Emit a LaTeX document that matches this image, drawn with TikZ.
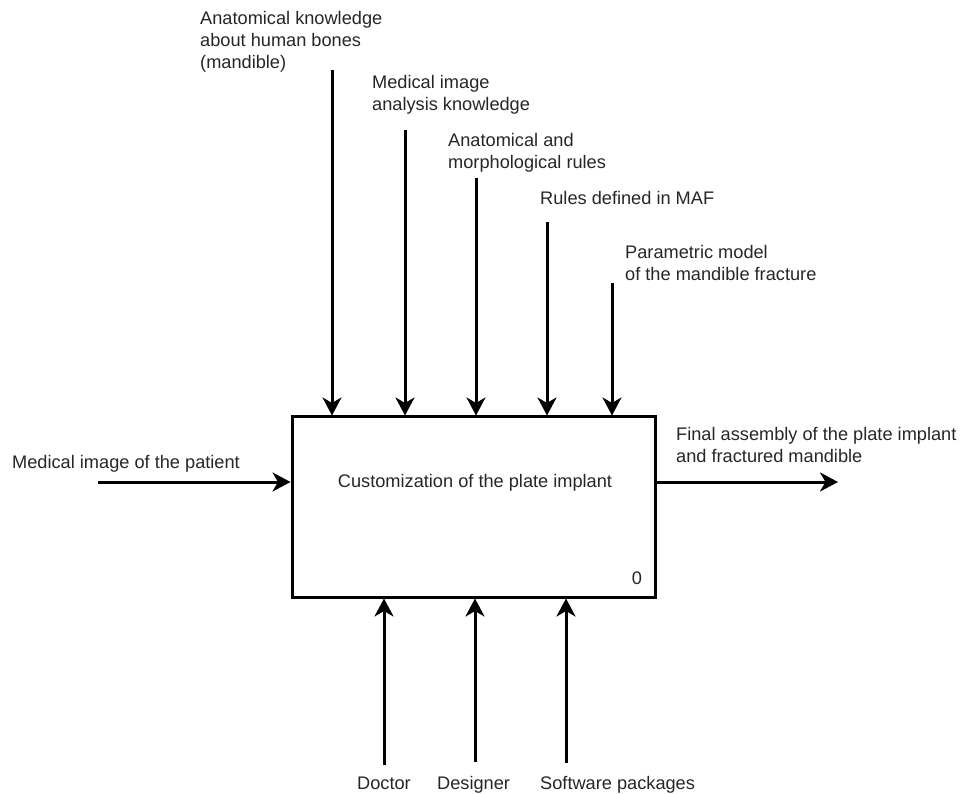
\documentclass[tikz,border=0pt]{standalone}
\usepackage{fontspec}
\setmainfont{Liberation Sans}
\usetikzlibrary{arrows.meta}
\begin{document}
\begin{tikzpicture}[x=1pt,y=-1pt,
  lbl/.style={inner sep=0pt,align=left,font=\fontsize{18.2}{22}\selectfont,text=black!85},
  arr/.style={line width=3pt,-{Stealth[length=18pt,width=19pt,inset=5.5pt]}},
  boxstyle/.style={draw,line width=3pt,minimum width=363pt,minimum height=180pt,inner sep=0pt}]
\useasboundingbox (0,0) rectangle (962,794);
\node[boxstyle] (box) at (473.5,507) {};
\node[lbl,anchor=center] (title) at (475,483) {Customization of the plate implant};
\node[lbl] (num) at (637,578) {0};
% control labels
\node[lbl,anchor=west] (l1) at (200,42) {Anatomical knowledge\\about human bones\\(mandible)};
\node[lbl,anchor=west] (l2) at (372,95) {Medical image\\analysis knowledge};
\node[lbl,anchor=west] (l3) at (448,153) {Anatomical and\\morphological rules};
\node[lbl,anchor=west] (l4) at (540,198) {Rules defined in MAF};
\node[lbl,anchor=west] (l5) at (625,263) {Parametric model\\of the mandible fracture};
% control arrows
\coordinate (c1) at (332,70);
\coordinate (c2) at (405,130);
\coordinate (c3) at (476,178);
\coordinate (c4) at (547,222);
\coordinate (c5) at (612,283);
\foreach \c in {c1,c2,c3,c4,c5} \draw[arr] (\c) -- (\c |- box.north);
% input
\node[lbl,anchor=west] (in) at (12,464) {Medical image of the patient};
\coordinate (i1) at (98,482);
\draw[arr] (i1) -- (i1 -| box.west);
% output
\node[lbl,anchor=west] (out) at (676,445) {Final assembly of the plate implant\\and fractured mandible};
\coordinate (o1) at (838,482);
\draw[arr] (o1 -| box.east) -- (o1);
% mechanisms
\coordinate (m1) at (384,765);
\coordinate (m2) at (475,762);
\coordinate (m3) at (566,763);
\foreach \c in {m1,m2,m3} \draw[arr] (\c) -- (\c |- box.south);
\node[lbl,anchor=base west] (d1) at (357,789) {Doctor};
\node[lbl,anchor=base west] (d2) at (437,789) {Designer};
\node[lbl,anchor=base west] (d3) at (540,789) {Software packages};
\end{tikzpicture}
\end{document}
